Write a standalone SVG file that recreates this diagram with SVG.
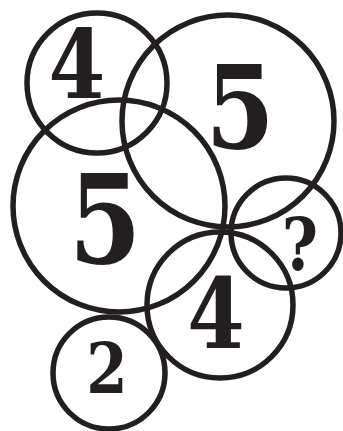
<svg xmlns="http://www.w3.org/2000/svg" width="343" height="431" viewBox="0 0 343 431">
<style>
.c{fill:none;stroke:#231f20;stroke-width:5.5}
.t{font-family:"DejaVu Serif",serif;font-weight:bold;fill:#231f20;text-anchor:middle}
</style>
<rect width="343" height="431" fill="#fff"/>
<g id="n1"><circle class="c" cx="97" cy="83" r="70"/><text class="t" transform="translate(77 98) scale(0.85 1)" font-size="96">4</text></g>
<g id="n2"><circle class="c" cx="228" cy="121" r="106"/><text class="t" transform="translate(240 148) scale(0.85 1)" font-size="117">5</text></g>
<g id="n3"><circle class="c" cx="119" cy="206" r="106"/><text class="t" transform="translate(105 263) scale(0.85 1)" font-size="123">5</text></g>
<g id="n4"><circle class="c" cx="286" cy="233" r="55"/><text class="t" transform="translate(300 270) scale(0.85 1)" font-size="73">?</text></g>
<g id="n5"><circle class="c" cx="220" cy="305" r="73"/><text class="t" transform="translate(216 348) scale(0.85 1)" font-size="97">4</text></g>
<g id="n6"><circle class="c" cx="109" cy="373" r="56"/><text class="t" transform="translate(107 393) scale(0.85 1)" font-size="70">2</text></g>
<g id="connectors"/>
</svg>
